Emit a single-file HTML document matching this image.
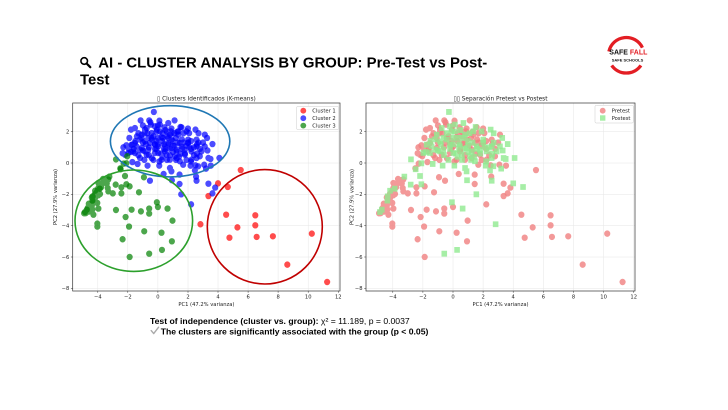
<!DOCTYPE html>
<html><head><meta charset="utf-8"><style>
html,body{margin:0;padding:0;background:#fff;width:728px;height:410px;overflow:hidden}
svg{display:block}
.t{font-family:"DejaVu Sans","Liberation Sans",sans-serif;fill:#222}
</style></head><body>
<svg width="728" height="410" viewBox="0 0 728 410" xmlns="http://www.w3.org/2000/svg">
<rect width="728" height="410" fill="#fff"/>
<defs>
<path id="pred" d="M11.26 -7.6h.001M8.61 -6.49h.001M10.24 -4.51h.001M7.65 -4.68h.001M6.57 -4.72h.001M6.48 -3.98h.001M6.48 -3.34h.001M5.29 -4.11h.001M4.76 -4.77h.001M4.54 -3.3h.001M5.51 -0.45h.001M3.36 -2.11h.001"/>
<path id="qred" d="M2.83 -3.91h.001M4.65 -1.53h.001M4 -1.3h.001"/>
<path id="ba" d="M3.81 -1.57h.001M3.63 -1.94h.001M3.36 -1.32h.001M2.21 -2.64h.001M-0.53 -1.13h.001M0.38 -0.7h.001M1.44 -0.74h.001M1.44 -1.34h.001M2.54 -0.87h.001M2.5 -0.15h.001M3.52 -0.17h.001M3.12 1.81h.001M1.11 2.72h.001M1.57 2.28h.001M2.08 1.91h.001M-2.19 0.53h.001M-2.35 0.62h.001M-1.92 0.89h.001M-2.1 1.13h.001M-1.7 1.17h.001M-1.79 2.13h.001M-1.53 2.23h.001M-1.15 2.72h.001M-0.58 2.72h.001M-0.46 2.45h.001M-0.86 2.13h.001M-0.07 2.13h.001M0.44 2.28h.001M0.86 2.02h.001M1.35 1.81h.001M0.91 1.49h.001M0.24 1.64h.001M-0.42 1.6h.001M-1.08 1.6h.001M-1.53 1.28h.001M-1.08 0.96h.001M-1.64 0.74h.001M-0.75 0.53h.001M-0.2 0.64h.001M0.46 0.74h.001M1.24 0.85h.001M1.79 0.53h.001M2.23 0.21h.001M2.79 0.43h.001M3.08 -0.11h.001M2.01 1.28h.001M2.57 1.49h.001M0.24 0.21h.001M0.8 0.21h.001M1.24 0.32h.001M-1.19 0.32h.001M-1.7 0.06h.001M1.68 -0.11h.001M0.02 1.06h.001M-0.53 1.28h.001M0.69 1.28h.001M1.46 1.28h.001M0.91 1.91h.001M-0.86 2.02h.001M-1.4 1.7h.001M-0.9 1.9h.001M-0.1 1.4h.001M0.6 2.0h.001M1.7 1.3h.001"/>
<path id="bb" d="M-0.27 3.26h.001M1.55 -2h.001M0.93 -1.1h.001M4.09 0.32h.001M3.5 0.26h.001M3.36 0.32h.001M3.63 1.21h.001M3.2 -0.36h.001M2.57 -1.13h.001M2.46 -0.47h.001M0.9 -0.53h.001M-0.69 -0.17h.001M0.09 -0.17h.001M-1.35 -0.06h.001M2.17 -0.17h.001M2.68 -0.21h.001M2.57 0.32h.001M3.27 1.6h.001M3.12 1.06h.001M2.57 1.06h.001M2.5 2.13h.001M2.01 1.49h.001M1.35 2.02h.001M0.69 2.55h.001M0.13 2.45h.001M-0.2 2.34h.001M-0.75 2.23h.001M-1.08 1.81h.001M-0.86 1.38h.001M-1.42 1.06h.001M-1.75 1.17h.001M-1.19 0.85h.001M-0.64 0.85h.001M-0.2 1.17h.001M0.35 1.6h.001M0.46 1.06h.001M0.91 0.96h.001M1.24 0.74h.001M1.57 1.06h.001M0.8 1.81h.001M0.02 0.64h.001M0.58 0.53h.001M1.13 0.43h.001M1.46 0.11h.001M1.79 0.85h.001M2.23 0.74h.001M-0.42 1.91h.001M0.13 2.02h.001M-0.64 1.6h.001M-1.53 0.64h.001M-1.97 0.64h.001M0.8 -0.32h.001M-0.86 0.74h.001M1.9 2.02h.001M2.9 0.74h.001M0.4 0.9h.001M1.0 1.1h.001M2.1 1.0h.001"/>
<path id="ga" d="M0.97 -3.68h.001M0.93 -5h.001M0.24 -4.45h.001M0 -2.81h.001M-0.58 -3.23h.001M-0.58 -2.91h.001M-0.91 -4.36h.001M-1.13 -3.09h.001M-1.75 -2.98h.001M-1.88 -6h.001M-1.92 -4.06h.001M-2.15 -3.45h.001M-2.35 -4.87h.001M-2.79 -3h.001M-2.43 -1.94h.001M-2.43 -1.55h.001M-1.88 -1.49h.001M-1.26 -1.87h.001M-3 -1.94h.001M-3.3 -1.81h.001M-4.03 -4.06h.001M-4.03 -3.87h.001M-4.29 -3.3h.001M-3.96 -2.91h.001M-4.03 -2.55h.001M-3.96 -2.06h.001M-4.91 -3.21h.001M-4.67 -2.87h.001M-4.51 -2.7h.001M-4.36 -2.98h.001M-4.29 -2.55h.001M-4.18 -2.23h.001M-3.85 -1.98h.001M-3.96 -1.6h.001M-3.74 -1.38h.001M-3.96 -1.28h.001M-3.65 -1.02h.001M-3.52 -1.13h.001M-3.34 -1.6h.001M-3.78 -1.55h.001M-0.93 -0.91h.001M-2.5 -0.34h.001M-2.28 -0.04h.001M-2.04 0.43h.001M-4.6 -2.6h.001M-4.4 -2.2h.001M-4.2 -2h.001M-4 -1.7h.001M-3.8 -1.4h.001M-3.6 -1.2h.001M-3.45 -1.1h.001M-3.4 -1.3h.001M-4.7 -3h.001M-4.8 -3.2h.001M-4.5 -2.9h.001M-4.3 -2.4h.001M-4.1 -1.9h.001M-3.9 -1.5h.001M-4.4 -2.8h.001M-4.6 -3.1h.001M-3.7 -1.3h.001M-3.3 -1.05h.001"/>
<path id="gb" d="M-0.58 -5.79h.001M0.27 -5.55h.001M0.64 -2.91h.001M-0.07 -2.51h.001M-2.1 -0.02h.001M-2.48 -0.4h.001M-2.19 -0.83h.001M-2.1 -1.36h.001M-2.81 -1.38h.001M-3.23 -0.87h.001M-2.79 0.23h.001M-3.87 -1.64h.001M-4.34 -2.13h.001M-4.18 -1.77h.001M-4.85 -3.13h.001M-4.73 -2.98h.001M-4.36 -2.4h.001"/>
<path id="ep" d="M-1.3 1.9h.001M-1 2.4h.001M-0.7 1.9h.001M-0.3 1.7h.001M0 2.4h.001M0.3 1.9h.001M0.6 1.7h.001M0.9 2.2h.001M1.2 1.6h.001M1.6 1.5h.001M1.9 1.1h.001M2.2 1.4h.001M2.6 1.2h.001M2.8 0.9h.001M-1.6 0.9h.001M-1.3 0.5h.001M-0.9 0.2h.001M-0.4 0.3h.001M0.1 0.1h.001M0.5 0.9h.001M0.8 0.5h.001M1.1 1.1h.001M1.5 0.6h.001M1.9 0.2h.001M2.2 0.9h.001M-0.2 1.2h.001M0.3 1.4h.001M0.7 1.2h.001M-0.6 1h.001M-1 1.3h.001M-1.9 1.6h.001M-2.3 1h.001M-0.1 0.9h.001M1.3 2h.001M1.7 1.9h.001M0.1 2.7h.001M-0.5 2.6h.001M2.4 0.5h.001M3 1.3h.001M2 2.2h.001"/>
<path id="eq" d="M-1.2 1.5h.001M-0.8 1.2h.001M-0.4 1.5h.001M0 1.2h.001M0.4 1.2h.001M0.7 1.6h.001M1 1.4h.001M1.3 1.3h.001M1.6 0.9h.001M2 1.3h.001M2.4 1h.001M2.7 1.3h.001M-1 0.8h.001M-0.6 0.5h.001M-0.2 0.9h.001M0.2 0.6h.001M0.6 0.2h.001M1 0.7h.001M1.4 0.4h.001M1.8 0.6h.001M2.2 0.1h.001M2.6 0.6h.001M-1.5 1.4h.001M-0.1 2h.001M0.5 2.1h.001M1.1 1.9h.001M1.5 2.3h.001M0.8 0.9h.001M0.3 0.4h.001M-0.3 0.2h.001M2.7 1.9h.001M3.3 0.8h.001M-1.8 0.7h.001M0 1.6h.001M1.2 0.2h.001"/>
</defs>

<!-- Main title -->
<circle cx="84.2" cy="61" r="3.3" fill="none" stroke="#000" stroke-width="1.6"/>
<path d="M86.6 63.5L90.3 67.2" stroke="#000" stroke-width="2.2" stroke-linecap="round"/>
<text x="98.3" y="67.6" font-family="'Liberation Sans',Arial,sans-serif" font-weight="bold" font-size="14.9" fill="#000">AI - CLUSTER ANALYSIS BY GROUP: Pre-Test vs Post-</text>
<text x="80" y="84.6" font-family="'Liberation Sans',Arial,sans-serif" font-weight="bold" font-size="14.9" fill="#000">Test</text>

<!-- Logo -->
<path d="M608.9 51.5A17.8 17.8 0 0 1 642.4 47.7" fill="none" stroke="#e31e24" stroke-width="3.3"/>
<path d="M611.7 65.4A17.8 17.8 0 0 0 640.9 65.4" fill="none" stroke="#e31e24" stroke-width="3.3"/>
<text x="609.3" y="54.3" font-family="'Liberation Sans',Arial,sans-serif" font-weight="bold" font-size="7" fill="#111">SAFE <tspan fill="#e31e24">FALL</tspan></text>
<text x="611.7" y="61.4" font-family="'Liberation Sans',Arial,sans-serif" font-weight="bold" font-size="4" fill="#111">SAFE SCHOOLS</text>

<!-- LEFT CHART -->
<path d="M97.8 103V291M127.8 103V291M157.9 103V291M188 103V291M218 103V291M248.1 103V291M278.1 103V291M308.2 103V291M338.3 103V291M72.7 131.7H340M72.7 163H340M72.7 194.3H340M72.7 225.6H340M72.7 257H340M72.7 288.3H340" stroke="#e6e6e6" stroke-width=".5" fill="none"/>
<g transform="matrix(15.03 0 0 -15.66 157.9 163)" fill="none" stroke-width=".41" stroke-linecap="round" stroke-opacity=".7">
<use href="#pred" stroke="#ff0000"/><use href="#qred" stroke="#ff0000"/>
<use href="#ba" stroke="#0000ff"/><use href="#bb" stroke="#0000ff"/><use href="#ep" stroke="#0000ff"/><use href="#eq" stroke="#0000ff"/>
<use href="#ga" stroke="#008000"/><use href="#gb" stroke="#008000"/>
</g>
<ellipse cx="170.1" cy="141.3" rx="59.7" ry="35.6" fill="none" stroke="#1f77b4" stroke-width="1.6"/>
<ellipse cx="133.8" cy="220.7" rx="58.8" ry="50.7" fill="none" stroke="#2ca02c" stroke-width="1.6"/>
<ellipse cx="264.8" cy="226.8" rx="57.5" ry="57.2" fill="none" stroke="#c00000" stroke-width="1.6"/>
<rect x="72.7" y="103" width="267.3" height="188" fill="none" stroke="#333" stroke-width=".7"/>
<path d="M97.8 291v1.8M127.8 291v1.8M157.9 291v1.8M188 291v1.8M218 291v1.8M248.1 291v1.8M278.1 291v1.8M308.2 291v1.8M338.3 291v1.8M72.7 131.7h-1.8M72.7 163h-1.8M72.7 194.3h-1.8M72.7 225.6h-1.8M72.7 257h-1.8M72.7 288.3h-1.8" stroke="#333" stroke-width=".5"/>
<g class="t" font-size="5.2" text-anchor="middle">
<text x="97.8" y="298.4">−4</text><text x="127.8" y="298.4">−2</text><text x="157.9" y="298.4">0</text><text x="188" y="298.4">2</text><text x="218" y="298.4">4</text><text x="248.1" y="298.4">6</text><text x="278.1" y="298.4">8</text><text x="308.2" y="298.4">10</text><text x="338.3" y="298.4">12</text>
<text x="206.4" y="305.8">PC1 (47.2% varianza)</text>
<text transform="translate(56.8 197) rotate(-90)">PC2 (27.9% varianza)</text>
</g>
<g class="t" font-size="5.2" text-anchor="end">
<text x="69.3" y="133.6">2</text><text x="69.3" y="164.9">0</text><text x="69.3" y="196.2">−2</text><text x="69.3" y="227.5">−4</text><text x="69.3" y="258.9">−6</text><text x="69.3" y="290.2">−8</text>
</g>
<text class="t" x="206.4" y="100.3" font-size="5.8" text-anchor="middle">▯ Clusters Identificados (K-means)</text>
<rect x="296.7" y="106.3" width="42" height="23.4" rx="1.2" fill="#fff" fill-opacity=".85" stroke="#ccc" stroke-width=".5"/>
<circle cx="303.3" cy="110.7" r="2.9" fill="#ff0000" fill-opacity=".7"/>
<circle cx="303.3" cy="118.2" r="2.9" fill="#0000ff" fill-opacity=".7"/>
<circle cx="303.3" cy="125.6" r="2.9" fill="#008000" fill-opacity=".7"/>
<g class="t" font-size="5.2"><text x="312.3" y="112.6">Cluster 1</text><text x="312.3" y="120.1">Cluster 2</text><text x="312.3" y="127.5">Cluster 3</text></g>

<!-- RIGHT CHART -->
<path d="M392.8 103V291M422.9 103V291M453 103V291M483.1 103V291M513.2 103V291M543.4 103V291M573.5 103V291M603.6 103V291M633.7 103V291M366 131.7H635M366 163H635M366 194.3H635M366 225.6H635M366 257H635M366 288.3H635" stroke="#e6e6e6" stroke-width=".5" fill="none"/>
<g transform="matrix(15.06 0 0 -15.66 453 163)" fill="none" stroke-opacity=".8">
<g stroke="#f07f7f" stroke-width=".41" stroke-linecap="round">
<use href="#pred"/><use href="#ba"/><use href="#ga"/><use href="#ep"/>
</g>
<g stroke="#90ea90" stroke-width=".37" stroke-linecap="square">
<use href="#qred"/><use href="#bb"/><use href="#gb"/><use href="#eq"/>
</g>
</g>
<rect x="366" y="103" width="269" height="188" fill="none" stroke="#333" stroke-width=".7"/>
<path d="M392.8 291v1.8M422.9 291v1.8M453 291v1.8M483.1 291v1.8M513.2 291v1.8M543.4 291v1.8M573.5 291v1.8M603.6 291v1.8M633.7 291v1.8M366 131.7h-1.8M366 163h-1.8M366 194.3h-1.8M366 225.6h-1.8M366 257h-1.8M366 288.3h-1.8" stroke="#333" stroke-width=".5"/>
<g class="t" font-size="5.2" text-anchor="middle">
<text x="392.8" y="298.4">−4</text><text x="422.9" y="298.4">−2</text><text x="453" y="298.4">0</text><text x="483.1" y="298.4">2</text><text x="513.2" y="298.4">4</text><text x="543.4" y="298.4">6</text><text x="573.5" y="298.4">8</text><text x="603.6" y="298.4">10</text><text x="633.7" y="298.4">12</text>
<text x="500.5" y="305.8">PC1 (47.2% varianza)</text>
<text transform="translate(353.5 197) rotate(-90)">PC2 (27.9% varianza)</text>
</g>
<g class="t" font-size="5.2" text-anchor="end">
<text x="362.5" y="133.6">2</text><text x="362.5" y="164.9">0</text><text x="362.5" y="196.2">−2</text><text x="362.5" y="227.5">−4</text><text x="362.5" y="258.9">−6</text><text x="362.5" y="290.2">−8</text>
</g>
<text class="t" x="500.5" y="100.3" font-size="5.8" text-anchor="middle">▯▯ Separación Pretest vs Postest</text>
<rect x="595" y="105.3" width="38.3" height="17.7" rx="1.2" fill="#fff" fill-opacity=".85" stroke="#ccc" stroke-width=".5"/>
<circle cx="602.7" cy="110.7" r="2.9" fill="#f07f7f" fill-opacity=".8"/>
<rect x="600" y="115.3" width="5.4" height="5.4" fill="#90ea90" fill-opacity=".8"/>
<g class="t" font-size="5.2"><text x="611.7" y="112.6">Pretest</text><text x="611.7" y="119.9">Postest</text></g>

<!-- Bottom text -->
<text x="150" y="323.8" font-family="'Liberation Sans',Arial,sans-serif" font-size="8.65" fill="#000"><tspan font-weight="bold">Test of independence (cluster vs. group):</tspan> χ² = 11.189, p = 0.0037</text>
<path d="M151.2 330.6L153.7 333.6L158.6 327.2" fill="none" stroke="#aaa" stroke-width="1.4" stroke-linejoin="round" stroke-linecap="round"/>
<text x="160.7" y="334.3" font-family="'Liberation Sans',Arial,sans-serif" font-weight="bold" font-size="8.65" fill="#000">The clusters are significantly associated with the group (p &lt; 0.05)</text>
</svg>
</body></html>
